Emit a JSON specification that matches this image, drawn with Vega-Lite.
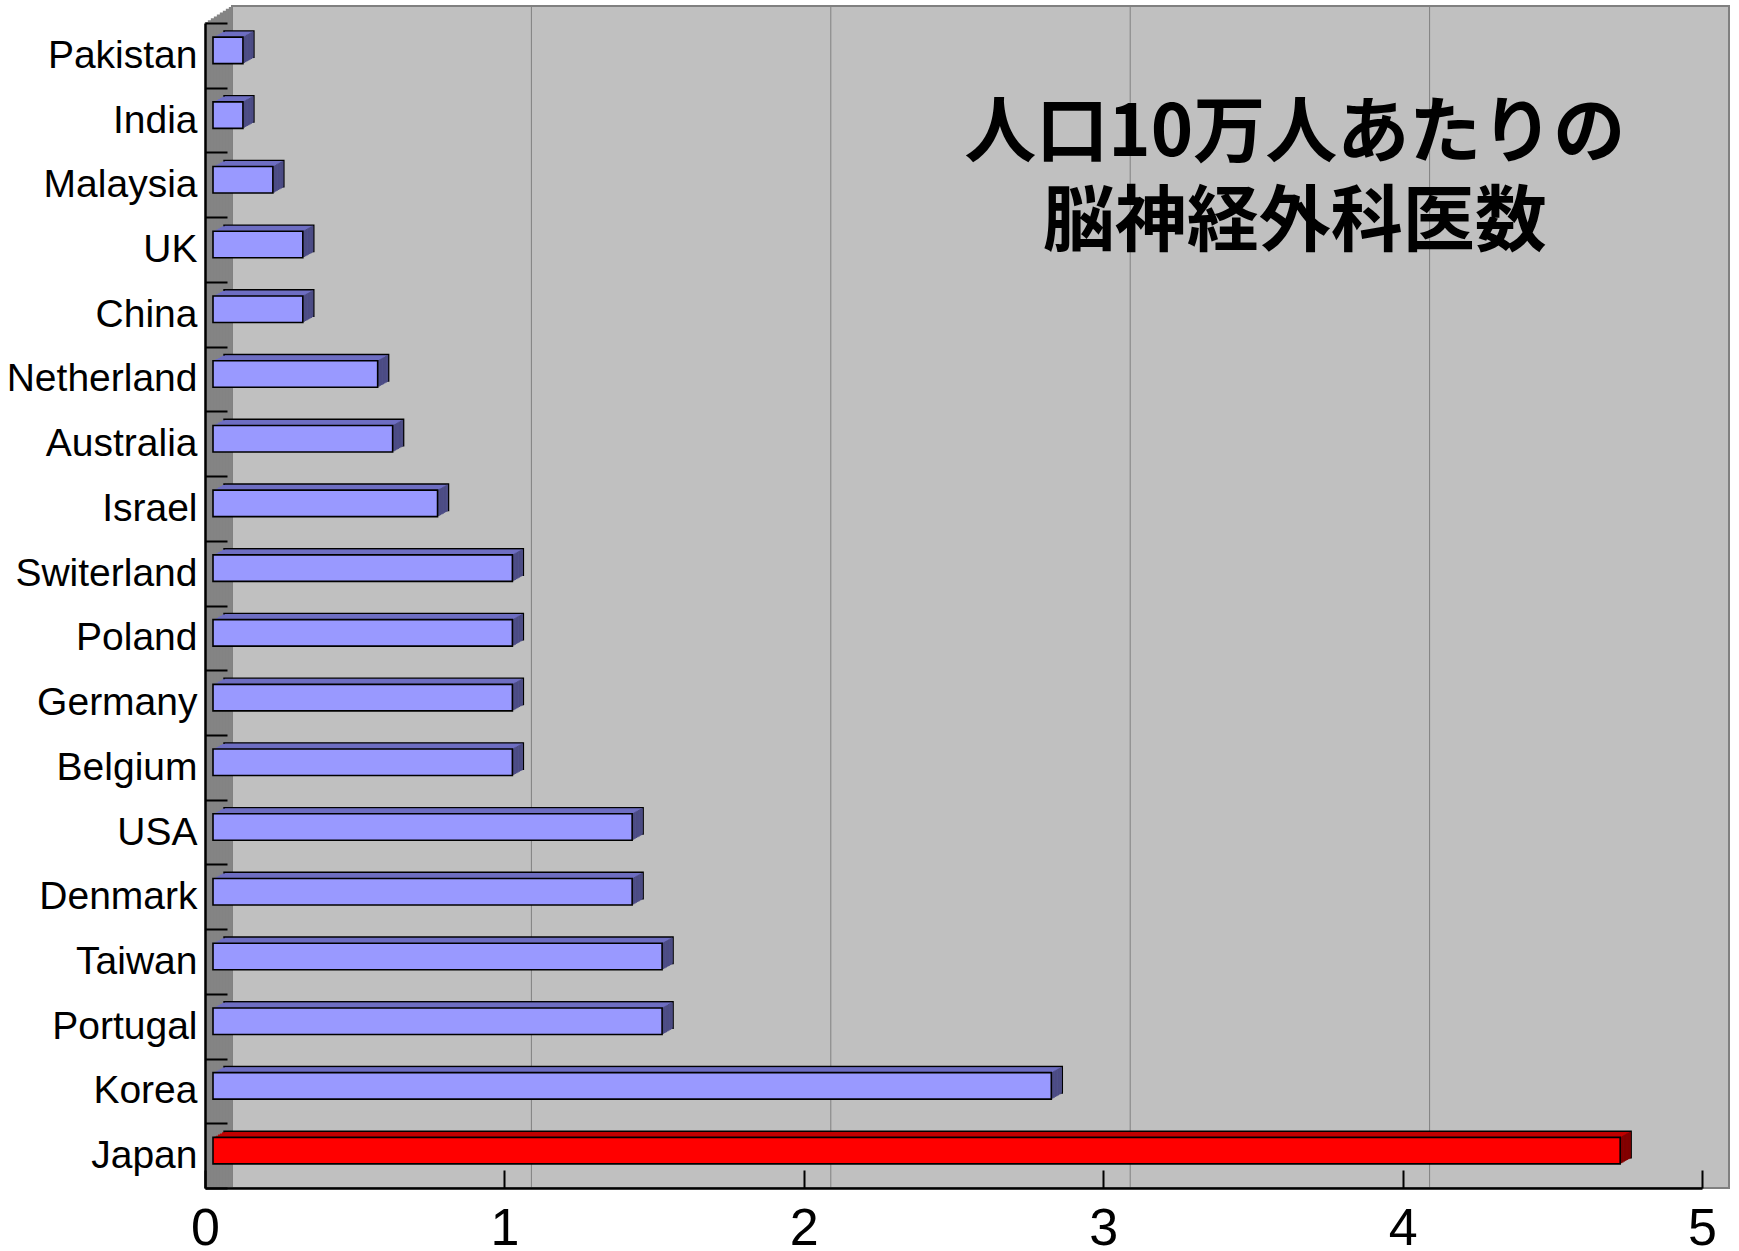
{
  "$schema": "https://vega.github.io/schema/vega-lite/v6.json",
  "width": 1497,
  "height": 1165,
  "autosize": {"type": "none"},
  "padding": {"left": 205, "top": 23, "right": 37, "bottom": 63},
  "background": "white",
  "view": {"fill": "#c0c0c0", "stroke": null},
  "config": {"font": "Liberation Sans"},
  "data": {
    "values": [
      {"country": "Pakistan", "value": 0.1},
      {"country": "India", "value": 0.1},
      {"country": "Malaysia", "value": 0.2},
      {"country": "UK", "value": 0.3},
      {"country": "China", "value": 0.3},
      {"country": "Netherland", "value": 0.55},
      {"country": "Australia", "value": 0.6},
      {"country": "Israel", "value": 0.75},
      {"country": "Switerland", "value": 1.0},
      {"country": "Poland", "value": 1.0},
      {"country": "Germany", "value": 1.0},
      {"country": "Belgium", "value": 1.0},
      {"country": "USA", "value": 1.4},
      {"country": "Denmark", "value": 1.4},
      {"country": "Taiwan", "value": 1.5},
      {"country": "Portugal", "value": 1.5},
      {"country": "Korea", "value": 2.8},
      {"country": "Japan", "value": 4.7}
    ]
  },
  "layer": [
    {"data": {"values": [{}]}, "mark": {"type": "rule", "color": "#c0c0c0", "strokeWidth": 5.6, "xOffset": 2.7, "yOffset": -1.7, "y2Offset": -1.7}, "encoding": {"x": {"datum": 5, "type": "quantitative", "title": null}}},
    {"data": {"values": [{}]}, "mark": {"type": "rule", "color": "#c0c0c0", "strokeWidth": 5.6, "xOffset": 8.1, "yOffset": -5.1, "y2Offset": -5.1}, "encoding": {"x": {"datum": 5, "type": "quantitative", "title": null}}},
    {"data": {"values": [{}]}, "mark": {"type": "rule", "color": "#c0c0c0", "strokeWidth": 5.6, "xOffset": 13.5, "yOffset": -8.5, "y2Offset": -8.5}, "encoding": {"x": {"datum": 5, "type": "quantitative", "title": null}}},
    {"data": {"values": [{}]}, "mark": {"type": "rule", "color": "#c0c0c0", "strokeWidth": 5.6, "xOffset": 18.9, "yOffset": -11.9, "y2Offset": -11.9}, "encoding": {"x": {"datum": 5, "type": "quantitative", "title": null}}},
    {"data": {"values": [{}]}, "mark": {"type": "rule", "color": "#c0c0c0", "strokeWidth": 5.6, "xOffset": 24.3, "yOffset": -15.3, "y2Offset": -15.3}, "encoding": {"x": {"datum": 5, "type": "quantitative", "title": null}}},
    {
      "data": {"values": [{}]},
      "mark": {"type": "rect", "fill": "#c0c0c0", "stroke": "#808080", "strokeWidth": 2, "xOffset": 27, "x2Offset": 27, "yOffset": -17, "y2Offset": -17},
      "encoding": {"x": {"datum": 0, "type": "quantitative", "title": null}, "x2": {"datum": 5}}
    },
    {
      "data": {"values": [{"g": 1}, {"g": 2}, {"g": 3}, {"g": 4}]},
      "mark": {"type": "rule", "color": "#808080", "strokeWidth": 1, "xOffset": 27, "yOffset": -17, "y2Offset": -17},
      "encoding": {"x": {"field": "g", "type": "quantitative", "title": null}}
    },
    {"data": {"values": [{}]}, "mark": {"type": "rule", "color": "#848484", "strokeWidth": 3.3, "xOffset": 1.5, "yOffset": -0.95, "y2Offset": -0.95}, "encoding": {"x": {"datum": 0, "type": "quantitative", "title": null}}},
    {"data": {"values": [{}]}, "mark": {"type": "rule", "color": "#848484", "strokeWidth": 3.3, "xOffset": 4.5, "yOffset": -2.84, "y2Offset": -2.84}, "encoding": {"x": {"datum": 0, "type": "quantitative", "title": null}}},
    {"data": {"values": [{}]}, "mark": {"type": "rule", "color": "#848484", "strokeWidth": 3.3, "xOffset": 7.5, "yOffset": -4.73, "y2Offset": -4.73}, "encoding": {"x": {"datum": 0, "type": "quantitative", "title": null}}},
    {"data": {"values": [{}]}, "mark": {"type": "rule", "color": "#848484", "strokeWidth": 3.3, "xOffset": 10.5, "yOffset": -6.62, "y2Offset": -6.62}, "encoding": {"x": {"datum": 0, "type": "quantitative", "title": null}}},
    {"data": {"values": [{}]}, "mark": {"type": "rule", "color": "#848484", "strokeWidth": 3.3, "xOffset": 13.5, "yOffset": -8.51, "y2Offset": -8.51}, "encoding": {"x": {"datum": 0, "type": "quantitative", "title": null}}},
    {"data": {"values": [{}]}, "mark": {"type": "rule", "color": "#848484", "strokeWidth": 3.3, "xOffset": 16.5, "yOffset": -10.4, "y2Offset": -10.4}, "encoding": {"x": {"datum": 0, "type": "quantitative", "title": null}}},
    {"data": {"values": [{}]}, "mark": {"type": "rule", "color": "#848484", "strokeWidth": 3.3, "xOffset": 19.5, "yOffset": -12.29, "y2Offset": -12.29}, "encoding": {"x": {"datum": 0, "type": "quantitative", "title": null}}},
    {"data": {"values": [{}]}, "mark": {"type": "rule", "color": "#848484", "strokeWidth": 3.3, "xOffset": 22.5, "yOffset": -14.18, "y2Offset": -14.18}, "encoding": {"x": {"datum": 0, "type": "quantitative", "title": null}}},
    {"data": {"values": [{}]}, "mark": {"type": "rule", "color": "#848484", "strokeWidth": 3.3, "xOffset": 25.5, "yOffset": -16.07, "y2Offset": -16.07}, "encoding": {"x": {"datum": 0, "type": "quantitative", "title": null}}},
    {
      "encoding": {
        "x": {
          "field": "value",
          "type": "quantitative",
          "title": null,
          "scale": {"domain": [0, 5], "nice": false, "zero": true},
          "axis": {
            "title": null,
            "values": [0, 1, 2, 3, 4, 5],
            "format": "d",
            "grid": false,
            "domainColor": "black",
            "domainWidth": 2.5,
            "tickColor": "black",
            "tickWidth": 2,
            "tickSize": -18,
            "labelFont": "Liberation Sans",
            "labelFontSize": 52,
            "labelColor": "black",
            "labelPadding": 33,
            "labelFlush": false,
            "zindex": 1
          }
        },
        "y": {
          "field": "country",
          "type": "nominal",
          "title": null,
          "scale": {
            "domain": ["Pakistan", "India", "Malaysia", "UK", "China", "Netherland", "Australia", "Israel", "Switerland", "Poland", "Germany", "Belgium", "USA", "Denmark", "Taiwan", "Portugal", "Korea", "Japan"],
            "paddingInner": 0,
            "paddingOuter": 0
          },
          "axis": {
            "title": null,
            "domainColor": "black",
            "domainWidth": 2.5,
            "tickColor": "black",
            "tickWidth": 2,
            "tickSize": -22,
            "tickBand": "extent",
            "labelFont": "Liberation Sans",
            "labelFontSize": 39,
            "labelColor": "black",
            "labelPadding": 30,
            "labelLimit": 400,
            "zindex": 1
          }
        }
      },
      "layer": [
        {
          "mark": {"type": "bar", "height": 26.5, "stroke": "black", "strokeWidth": 1.4, "xOffset": 19, "x2Offset": 19, "yOffset": -11.2, "y2Offset": -11.2},
          "encoding": {"color": {"condition": {"test": "datum.country === 'Japan'", "value": "#c00000"}, "value": "#6e6ec2"}}
        },
        {
          "mark": {"type": "bar", "height": 26.5, "xOffset": 17, "x2Offset": 17, "yOffset": -10.07, "y2Offset": -10.07},
          "encoding": {"color": {"condition": {"test": "datum.country === 'Japan'", "value": "#c00000"}, "value": "#6e6ec2"}}
        },
        {
          "mark": {"type": "bar", "height": 26.5, "xOffset": 15, "x2Offset": 15, "yOffset": -8.95, "y2Offset": -8.95},
          "encoding": {"color": {"condition": {"test": "datum.country === 'Japan'", "value": "#c00000"}, "value": "#6e6ec2"}}
        },
        {
          "mark": {"type": "bar", "height": 26.5, "xOffset": 13, "x2Offset": 13, "yOffset": -7.82, "y2Offset": -7.82},
          "encoding": {"color": {"condition": {"test": "datum.country === 'Japan'", "value": "#c00000"}, "value": "#6e6ec2"}}
        },
        {
          "mark": {"type": "bar", "height": 26.5, "xOffset": 11, "x2Offset": 11, "yOffset": -6.69, "y2Offset": -6.69},
          "encoding": {"color": {"condition": {"test": "datum.country === 'Japan'", "value": "#c00000"}, "value": "#6e6ec2"}}
        },
        {
          "mark": {"type": "bar", "height": 26.5, "xOffset": 9.5, "x2Offset": 9.5, "yOffset": -5.85, "y2Offset": -5.85},
          "encoding": {"color": {"condition": {"test": "datum.country === 'Japan'", "value": "#c00000"}, "value": "#6e6ec2"}}
        },
        {"mark": {"type": "tick", "size": 26.5, "thickness": 1.8, "opacity": 1, "xOffset": 9.2, "yOffset": -5.68}, "encoding": {"color": {"condition": {"test": "datum.country === 'Japan'", "value": "#800000"}, "value": "#4c4c84"}}},
        {"mark": {"type": "tick", "size": 26.5, "thickness": 1.8, "opacity": 1, "xOffset": 10.6, "yOffset": -6.47}, "encoding": {"color": {"condition": {"test": "datum.country === 'Japan'", "value": "#800000"}, "value": "#4c4c84"}}},
        {"mark": {"type": "tick", "size": 26.5, "thickness": 1.8, "opacity": 1, "xOffset": 12, "yOffset": -7.25}, "encoding": {"color": {"condition": {"test": "datum.country === 'Japan'", "value": "#800000"}, "value": "#4c4c84"}}},
        {"mark": {"type": "tick", "size": 26.5, "thickness": 1.8, "opacity": 1, "xOffset": 13.4, "yOffset": -8.04}, "encoding": {"color": {"condition": {"test": "datum.country === 'Japan'", "value": "#800000"}, "value": "#4c4c84"}}},
        {"mark": {"type": "tick", "size": 26.5, "thickness": 1.8, "opacity": 1, "xOffset": 14.8, "yOffset": -8.83}, "encoding": {"color": {"condition": {"test": "datum.country === 'Japan'", "value": "#800000"}, "value": "#4c4c84"}}},
        {"mark": {"type": "tick", "size": 26.5, "thickness": 1.8, "opacity": 1, "xOffset": 16.2, "yOffset": -9.62}, "encoding": {"color": {"condition": {"test": "datum.country === 'Japan'", "value": "#800000"}, "value": "#4c4c84"}}},
        {"mark": {"type": "tick", "size": 26.5, "thickness": 1.8, "opacity": 1, "xOffset": 17.6, "yOffset": -10.41}, "encoding": {"color": {"condition": {"test": "datum.country === 'Japan'", "value": "#800000"}, "value": "#4c4c84"}}},
        {
          "mark": {"type": "bar", "height": 26.5, "stroke": "black", "strokeWidth": 1.6, "xOffset": 8, "x2Offset": 8, "yOffset": -5, "y2Offset": -5},
          "encoding": {"color": {"condition": {"test": "datum.country === 'Japan'", "value": "#ff0000"}, "value": "#9999ff"}}
        }
      ]
    },
    {
      "data": {"values": [{"label": "人口10万人あたりの\n脳神経外科医数"}]},
      "mark": {"type": "text", "font": "Noto Sans CJK JP", "fontWeight": "bold", "fontSize": 72, "lineHeight": 89, "lineBreak": "\n", "align": "center", "baseline": "middle", "color": "black", "yOffset": -51},
      "encoding": {
        "text": {"field": "label"},
        "x": {"datum": 3.64, "type": "quantitative", "title": null},
        "y": {"datum": "Malaysia", "type": "nominal", "title": null}
      }
    }
  ]
}
